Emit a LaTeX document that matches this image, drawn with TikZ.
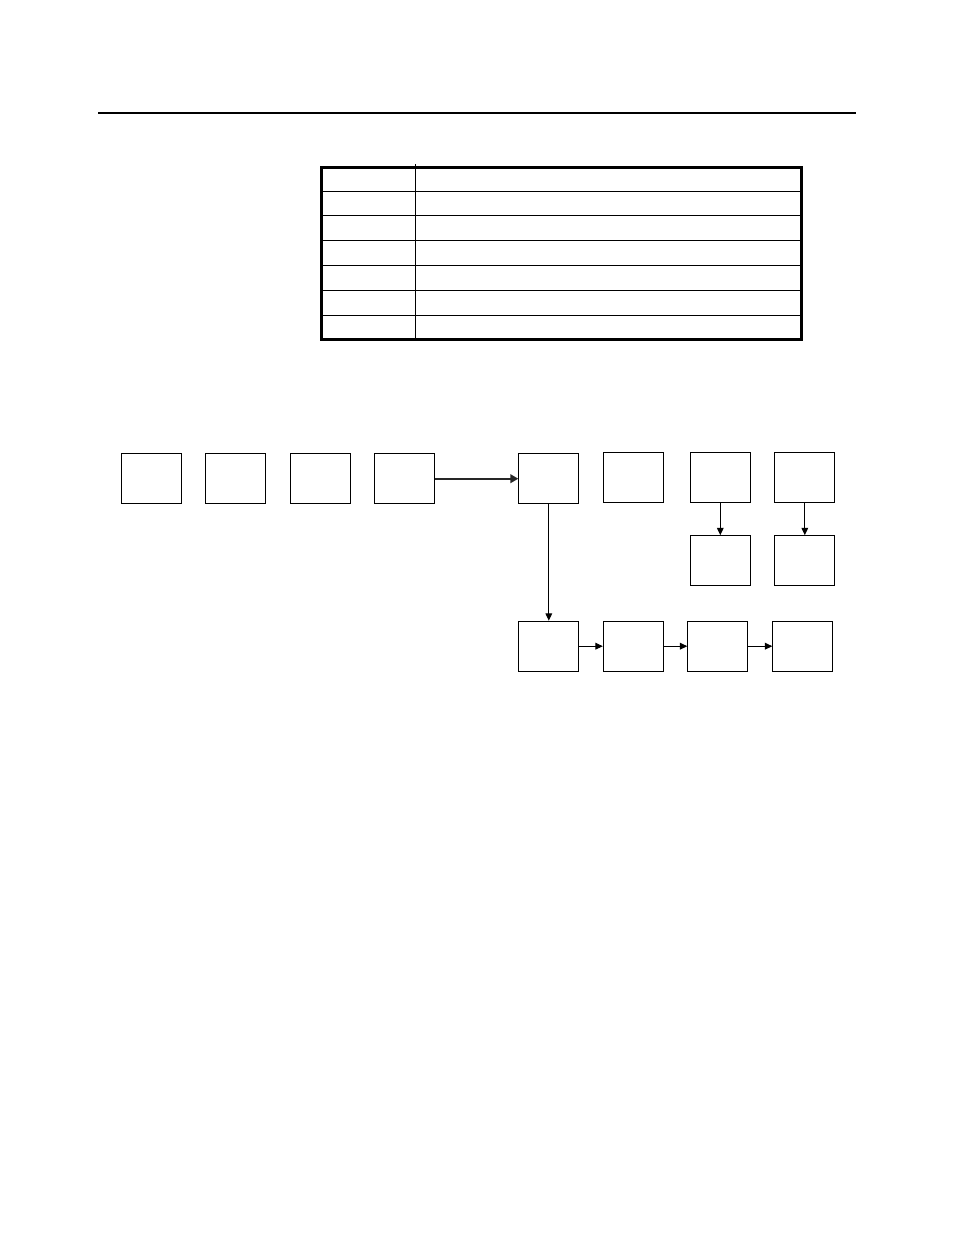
\documentclass[tikz,border=0pt]{standalone}
\usetikzlibrary{arrows.meta}
\begin{document}
\begin{tikzpicture}[x=0.75pt,y=-0.75pt,
  boxnode/.style={draw,line width=0.75pt,rectangle,inner sep=0pt,minimum width=45pt,minimum height=37.5pt},
  conn/.style={line width=0.75pt,-{Triangle[length=5.5pt,width=5pt]}},
  thickconn/.style={line width=1.5pt,black!85,-{Triangle[length=6pt,width=6.5pt]}}]
\useasboundingbox (0,0) rectangle (954,1235);
% top rule
\draw[line width=1.5pt] (98,112.7) -- (856,112.7);
% table
\foreach \y in {191.7,215.7,240.3,265.3,290.3,315.3} \draw[line width=0.9pt] (321,\y) -- (802,\y);
\draw[line width=0.9pt] (415.3,164) -- (415.3,340);
\draw[line width=2.25pt] (321.5,167.5) rectangle (801.5,339.5);
% boxes
\node[boxnode] (b1) at (151,478.7) {};
\node[boxnode] (b2) at (235.3,478.7) {};
\node[boxnode] (b3) at (320.3,478.7) {};
\node[boxnode] (b4) at (404.8,478.7) {};
\node[boxnode] (b5) at (548.8,478.7) {};
\node[boxnode] (b6) at (633.3,477.7) {};
\node[boxnode] (b7) at (720.3,477.7) {};
\node[boxnode] (b8) at (804.8,477.7) {};
\node[boxnode] (b9) at (720.3,560.7) {};
\node[boxnode] (b10) at (804.8,560.7) {};
\node[boxnode] (b11) at (548.8,646.2) {};
\node[boxnode] (b12) at (633.3,646.2) {};
\node[boxnode] (b13) at (717.8,646.2) {};
\node[boxnode] (b14) at (802.8,646.2) {};
% connectors
\draw[thickconn] (b4.east) -- (b5.west);
\draw[conn] (b5.south) -- (b11.north);
\draw[conn] (b7.south) -- (b9.north);
\draw[conn] (b8.south) -- (b10.north);
\draw[conn] (b11.east) -- (b12.west);
\draw[conn] (b12.east) -- (b13.west);
\draw[conn] (b13.east) -- (b14.west);
\end{tikzpicture}
\end{document}
